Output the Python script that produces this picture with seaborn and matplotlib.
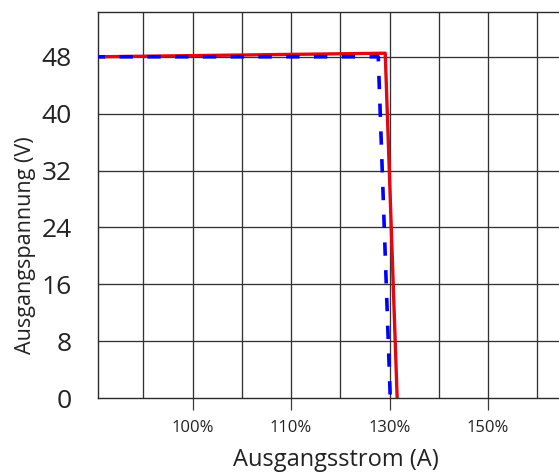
import matplotlib
matplotlib.use("Agg")
import matplotlib.pyplot as plt
import seaborn as sns
import pandas as pd

# Output current (position on the current axis) and output voltage for both curves
strom_rot = [90.4, 119.56, 120.77]
spannung_rot = [48.0, 48.5, 0.0]
strom_blau = [90.4, 118.85, 120.07]
spannung_blau = [48.0, 48.0, 0.0]

# Axis ticks and labels
x_tick_pos = [100, 110, 120, 130]
x_tick_labels = ["100%", "110%", "130%", "150%"]
x_grid_pos = [95, 100, 105, 110, 115, 120, 125, 130, 135]
y_ticks = [0, 8, 16, 24, 32, 40, 48]

sns.set_style("white")
plt.rcParams["font.family"] = ["Open Sans", "DejaVu Sans"]
plt.rcParams["lines.scale_dashes"] = False

fig = plt.figure(figsize=(5.59, 4.74), dpi=100)
ax = fig.add_axes([98 / 559, 1 - 398 / 474, 1 - 98 / 559, 386 / 474])

df_rot = pd.DataFrame({"strom": strom_rot, "spannung": spannung_rot})
df_blau = pd.DataFrame({"strom": strom_blau, "spannung": spannung_blau})

sns.lineplot(data=df_rot, x="strom", y="spannung", sort=False, ax=ax,
             color="#e30613", linewidth=2.4, zorder=3)
sns.lineplot(data=df_blau, x="strom", y="spannung", sort=False, ax=ax,
             color="#0000ff", linewidth=2.6, zorder=4)
ax.lines[-1].set_linestyle((4.5, (9.6, 10.4)))
ax.lines[-1].set_dash_capstyle("butt")

ax.set_xlim(90.4, 137.2)
ax.set_ylim(0, 54.3)

# Grid
grid_kw = dict(color="#333333", linewidth=0.95, zorder=1)
for gx in x_grid_pos:
    ax.axvline(gx, **grid_kw)
for gy in y_ticks[1:]:
    ax.axhline(gy, **grid_kw)

ax.set_xticks(x_tick_pos)
ax.set_xticklabels(x_tick_labels, fontsize=12, color="#222222")
ax.tick_params(axis="x", length=8.5, width=0.9, color="#3a3a3a", pad=7, direction="out", bottom=True)
ax.set_yticks(y_ticks)
ax.set_yticklabels([str(v) for v in y_ticks], fontsize=19, color="#222222")
ax.tick_params(axis="y", length=0, pad=19)

for side in ["left", "bottom", "top"]:
    ax.spines[side].set_color("#2a2a2a")
    ax.spines[side].set_linewidth(1.0)
ax.spines["right"].set_visible(False)

ax.set_xlabel("Ausgangsstrom (A)", fontsize=17, color="#222222")
ax.set_ylabel("Ausgangspannung (V)", fontsize=15.5, color="#222222")
ax.xaxis.set_label_coords(0.516, -0.13)
ax.yaxis.set_label_coords(-0.135, 0.395)

fig.savefig("out.png", dpi=100)
